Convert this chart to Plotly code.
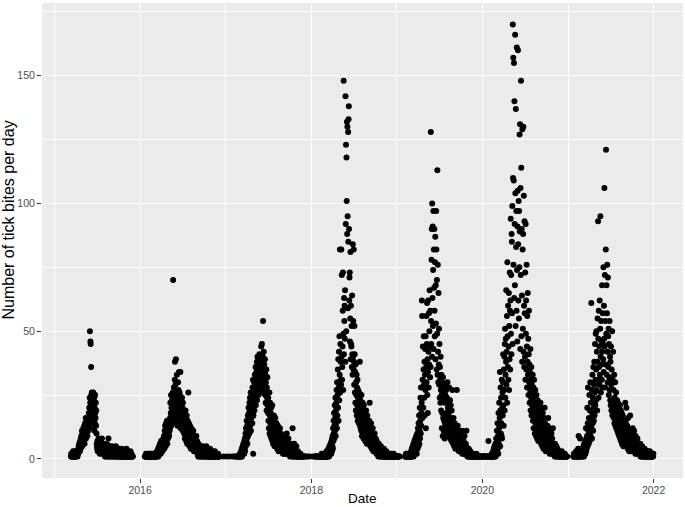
import datetime as dt
import plotly.graph_objects as go

# Daily counts of tick bites (0 = no record that day)
start_2015 = "2015-03-12"
bites_2015 = [
    1,2,1,1,2,1,1,2,1,3,1,2,2,1,1,2,1,3,2,1,
    2,2,3,1,2,3,2,2,1,3,3,2,4,5,3,6,4,5,3,7,6,4,8,5,9,6,7,11,5,8,
    10,6,9,12,7,10,8,13,6,11,14,9,12,16,8,13,10,15,11,14,9,12,16,13,11,14,18,12,20,16,24,
    50,22,46,45,18,36,25,13,26,20,16,23,12,19,26,15,21,17,24,11,20,14,25,18,16,22,13,19,10,6,
    5,4,7,3,5,6,4,8,3,5,4,6,2,5,7,3,4,6,5,3,4,8,2,5,3,6,4,3,5,2,4,
    3,2,4,1,3,5,2,3,1,4,2,6,3,1,2,4,3,2,8,1,3,2,4,1,3,2,5,3,1,2,4,
    2,3,1,5,2,3,2,1,4,3,2,1,3,2,4,1,2,3,1,5,2,1,3,2,1,4,2,3,1,2,
    2,1,3,1,2,4,1,2,1,3,2,1,2,1,4,1,2,0,1,3,1,2,1,0,2,1,3,1,1,2,0,
    1,2,1,4,1,0,2,1,1,3,0,1,2,1,0,1,2,0,1,1,3,0,1,0,2,1,0,1,0,1,
    1,
]

start_2016 = "2016-01-01"
bites_2016 = [
    0,0,0,0,0,0,0,0,0,0,0,0,0,0,0,0,0,0,0,0,1,0,1,1,0,2,1,0,1,1,0,
    1,2,1,0,1,1,0,1,2,1,0,1,1,2,0,1,1,0,1,2,1,1,0,1,2,1,1,0,2,
    1,1,2,1,0,1,2,1,1,2,2,1,3,2,1,3,2,4,1,3,2,5,3,2,4,6,3,5,2,4,7,
    3,5,4,6,3,7,5,4,8,6,5,9,4,7,11,6,13,8,5,10,14,7,12,9,15,6,11,13,8,14,
    10,12,15,9,13,11,12,16,22,14,18,25,13,20,17,23,15,21,19,26,70,24,18,28,21,26,16,31,38,14,29,
    22,39,19,25,17,33,20,24,13,22,30,18,27,15,34,22,26,16,25,19,34,12,23,20,17,21,14,24,18,20,
    11,22,16,19,13,15,10,18,12,8,16,11,19,9,14,7,13,17,10,6,12,15,8,11,26,9,14,7,12,5,10,
    13,6,9,11,4,8,12,5,7,10,6,9,4,8,11,5,7,3,9,6,4,8,5,7,3,6,4,9,5,3,7,
    4,2,5,3,1,6,2,4,3,1,5,2,3,4,1,2,5,3,1,2,4,3,2,1,5,2,3,1,4,2,
    1,3,2,4,1,2,3,1,2,5,1,3,2,1,2,4,1,2,3,1,2,1,3,2,1,4,1,2,1,3,1,
    2,0,1,2,1,3,1,0,2,1,1,2,0,1,3,1,0,1,2,1,0,1,1,2,0,1,0,1,2,0,
    1,0,1,0,0,1,0,0,0,0,0,0,0,0,0,0,0,0,0,0,0,1,0,0,0,0,0,0,0,0,0,
]

start_2017 = "2017-01-01"
bites_2017 = [
    0,0,0,0,1,0,0,0,0,0,0,0,0,0,0,0,0,1,0,0,0,0,0,0,0,0,0,0,0,0,0,
    1,0,0,0,0,0,0,1,0,0,0,0,0,1,0,0,1,0,0,1,0,0,1,0,1,0,0,1,
    1,2,1,0,2,1,3,1,2,4,1,3,2,5,2,4,6,3,5,2,7,4,8,3,6,10,5,12,7,9,15,
    8,13,6,11,17,9,14,20,12,18,10,22,15,24,13,19,26,11,21,16,23,18,25,14,28,20,31,2,17,24,
    22,30,19,27,33,24,29,36,21,31,26,34,38,23,30,40,27,35,32,25,37,29,33,41,28,36,31,39,26,34,30,
    44,33,38,45,30,36,28,40,54,35,31,42,26,37,34,29,39,25,33,22,30,27,35,19,28,24,32,21,26,18,
    24,15,21,12,19,26,10,17,22,14,9,18,13,20,8,16,11,21,7,15,12,6,14,10,17,8,13,5,11,9,16,
    7,12,6,10,14,5,9,4,11,7,13,6,8,3,10,5,9,7,4,12,6,8,3,10,5,7,4,9,6,3,8,
    5,2,7,4,9,3,6,2,5,8,3,6,4,2,7,5,3,10,4,2,6,3,5,2,8,4,3,6,2,5,
    3,1,4,2,6,3,2,5,1,4,2,3,12,1,5,2,4,3,1,6,2,3,1,4,2,1,3,2,5,1,2,
    1,2,1,0,3,1,2,0,1,1,2,0,1,0,1,2,1,0,0,1,0,1,0,0,1,0,1,0,0,1,
    0,0,1,0,0,0,0,1,0,0,0,0,0,1,0,0,0,0,0,0,0,0,0,0,1,0,0,0,0,0,0,
]

start_2018 = "2018-01-01"
bites_2018 = [
    0,0,0,0,0,0,0,1,0,0,0,0,0,0,0,1,0,0,1,0,0,1,0,0,1,0,1,0,0,1,0,
    1,0,1,0,1,1,0,1,0,1,1,0,1,2,0,1,1,0,1,1,2,0,1,1,2,1,0,1,
    1,2,1,1,2,1,3,1,2,1,2,3,1,2,4,2,3,1,5,2,3,4,2,6,3,5,2,7,4,3,8,
    5,9,4,12,7,15,10,18,8,13,21,11,16,24,9,19,14,22,27,12,30,17,25,35,20,39,15,28,42,23,
    48,33,82,26,45,38,31,29,82,40,72,31,36,44,58,73,27,49,148,41,63,54,60,47,66,38,142,92,123,50,118,
    101,132,88,130,95,59,128,85,133,138,90,62,71,73,46,55,81,39,60,45,44,52,36,64,41,33,84,40,54,35,
    82,38,29,52,41,26,34,22,37,19,30,25,33,17,28,21,31,15,24,27,18,22,14,26,20,16,38,13,23,18,12,
    20,11,25,15,9,19,13,22,10,17,14,8,21,12,16,9,18,11,7,15,13,10,19,8,14,6,12,17,9,11,7,
    13,8,10,6,15,9,22,7,12,5,11,8,14,6,9,4,10,7,5,12,6,8,3,9,5,7,4,10,6,3,
    6,4,8,3,5,2,7,4,3,6,2,5,3,1,4,6,2,3,5,1,4,2,3,1,5,2,3,4,1,2,3,
    1,2,3,1,2,1,4,2,1,3,1,2,1,0,2,1,3,1,2,1,1,0,2,1,1,2,0,1,1,2,
    1,0,1,2,1,0,1,1,0,2,1,0,1,1,0,1,0,1,2,0,1,0,1,0,1,1,0,1,0,1,0,
]

start_2019 = "2019-01-01"
bites_2019 = [
    1,0,1,0,1,1,0,1,0,0,1,0,1,0,0,0,0,0,0,0,0,0,0,0,0,0,0,0,0,0,0,
    0,0,0,0,1,1,0,1,2,1,0,1,1,2,1,1,0,1,2,1,1,2,1,0,1,2,1,1,
    2,1,3,1,2,4,1,3,2,5,2,3,6,1,4,2,7,3,5,2,8,4,6,3,9,5,2,7,10,4,6,
    12,8,5,14,9,17,6,11,20,8,15,24,10,28,13,18,22,62,56,16,31,44,28,20,35,48,29,24,38,17,
    33,43,27,48,12,36,56,30,45,61,25,39,18,34,62,42,28,57,37,50,66,44,32,58,36,128,54,45,78,90,40,
    100,63,91,52,74,97,43,82,67,90,58,48,77,87,39,68,53,97,82,35,70,49,113,33,76,42,30,65,37,51,
    29,45,24,36,31,22,40,27,19,33,25,12,30,18,28,9,32,16,26,11,23,15,29,8,22,14,25,17,10,13,27,
    18,12,24,15,30,10,20,14,22,9,17,28,13,19,11,23,8,16,21,12,15,7,19,10,14,27,9,13,6,11,16,
    8,12,5,10,14,7,11,4,9,13,6,8,12,27,5,10,7,13,4,9,6,11,3,8,5,10,4,7,3,6,
    5,9,3,7,4,11,2,6,8,3,5,2,7,4,6,3,9,2,5,4,3,6,2,5,11,3,2,4,1,3,2,
    3,1,2,4,1,2,3,1,2,1,3,1,2,0,1,2,1,0,1,2,1,0,1,1,0,2,1,0,1,1,
    0,1,1,0,1,0,2,1,0,1,0,1,1,0,0,1,0,1,0,1,0,0,1,0,1,0,0,1,0,1,0,
]

start_2020 = "2020-01-01"
bites_2020 = [
    1,0,0,1,0,1,0,0,1,0,1,0,0,1,0,0,1,0,1,0,0,1,0,0,1,0,7,0,1,0,1,
    0,1,1,0,1,0,1,1,0,2,1,0,1,2,1,3,1,2,4,1,2,5,1,3,2,6,1,4,8,
    2,5,11,3,7,14,4,9,2,18,6,12,22,8,16,34,5,19,28,10,24,14,9,31,8,20,26,17,30,41,21,
    13,35,27,40,19,45,51,24,33,47,38,66,29,42,56,22,77,48,36,60,31,44,65,27,52,39,73,58,35,62,
    94,49,72,41,88,85,57,99,45,170,110,157,76,109,155,63,140,92,68,166,104,52,137,83,97,58,161,74,46,91,105,
    160,84,62,101,55,97,75,127,89,131,43,106,72,148,114,48,90,64,38,129,82,51,88,130,42,103,60,36,93,57,
    40,73,31,92,49,62,35,76,44,28,56,38,65,33,47,25,41,58,30,37,22,34,27,43,19,31,24,36,17,29,21,
    26,18,33,15,23,28,12,20,31,16,24,10,19,27,14,22,9,17,25,13,20,8,15,23,11,18,7,14,21,10,16,
    12,19,8,14,22,10,17,6,13,20,9,15,5,11,18,7,13,4,10,16,6,12,20,8,14,5,10,3,9,12,
    7,11,4,9,13,5,8,16,3,10,6,12,4,8,2,9,5,11,3,7,4,10,2,6,8,3,5,12,2,4,6,
    3,5,2,4,1,6,3,2,4,1,3,5,2,1,3,2,4,1,2,3,1,2,1,3,1,2,0,1,2,1,
    2,1,0,1,3,1,0,2,1,1,0,1,2,0,1,1,0,2,1,0,1,0,1,1,0,1,0,1,0,0,0,
]

start_2021 = "2021-01-01"
bites_2021 = [
    0,0,0,0,0,0,0,0,0,0,0,0,0,0,0,0,0,0,0,0,0,0,1,0,1,2,1,0,1,1,2,
    1,2,1,3,1,2,1,1,3,2,1,2,4,1,9,1,3,2,1,2,8,1,3,2,1,4,2,3,
    1,3,2,2,1,4,2,5,3,1,6,2,4,3,7,2,5,12,3,8,4,6,9,20,5,14,28,8,11,6,16,
    10,25,7,19,13,30,9,22,16,61,12,27,8,18,33,14,24,11,36,20,15,29,38,17,26,45,21,31,49,23,
    35,50,27,42,19,38,55,31,93,47,24,58,36,44,29,62,33,51,95,40,26,54,37,46,31,68,42,28,57,45,39,
    75,34,60,47,106,44,72,28,54,37,82,121,49,68,33,57,76,42,30,71,48,36,51,25,45,32,54,27,40,23,
    38,21,44,29,19,35,23,50,17,31,22,42,20,27,16,21,33,14,24,18,30,13,22,17,26,12,20,15,23,11,19,
    14,22,10,17,13,20,9,15,12,21,8,16,11,19,7,14,10,18,6,13,9,17,8,12,5,15,10,7,13,6,11,
    9,22,12,7,14,6,20,10,5,13,8,11,4,16,9,6,12,7,3,10,8,5,17,9,4,11,7,3,8,6,
    10,5,8,12,4,7,9,3,6,11,5,8,4,7,2,9,5,3,7,4,6,2,5,8,3,4,6,2,5,3,4,
    3,5,2,4,6,1,3,2,4,1,3,2,5,1,3,2,1,4,2,1,3,1,2,4,1,2,3,1,2,1,
    2,1,3,1,2,1,1,2,3,1,2,1,1,2,1,3,1,2,1,1,2,1,1,2,1,1,2,1,2,1,2,
]

x_tick_vals = ["2016-01-01", "2018-01-01", "2020-01-01", "2022-01-01"]
x_tick_text = ["2016", "2018", "2020", "2022"]
x_minor_vals = ["2015-01-01", "2017-01-01", "2019-01-01", "2021-01-01"]
y_tick_vals = [0, 50, 100, 150]
y_minor_vals = [25, 75, 125, 175]

seasons = [
    (start_2015, bites_2015), (start_2016, bites_2016), (start_2017, bites_2017),
    (start_2018, bites_2018), (start_2019, bites_2019), (start_2020, bites_2020),
    (start_2021, bites_2021),
]

dates, counts = [], []
for start, vals in seasons:
    d0 = dt.date.fromisoformat(start)
    for i, v in enumerate(vals):
        if v > 0:
            dates.append(d0 + dt.timedelta(days=i))
            counts.append(v)

FONT = "Liberation Sans, Arial, sans-serif"

fig = go.Figure(go.Scatter(
    x=dates, y=counts, mode="markers",
    marker=dict(color="black", size=6, line=dict(width=0)),
))

fig.update_layout(
    width=685, height=507,
    margin=dict(l=42, r=2, t=3, b=29),
    paper_bgcolor="white", plot_bgcolor="#EBEBEB",
    showlegend=False,
    font=dict(family=FONT),
    xaxis=dict(
        type="date",
        range=["2014-11-08 07:00", "2022-05-06 14:00"],
        tickvals=x_tick_vals, ticktext=x_tick_text,
        ticks="outside", ticklen=4, tickwidth=1, tickcolor="#333333",
        tickfont=dict(size=10.5, color="#4D4D4D", family=FONT),
        ticklabelstandoff=-2,
        showgrid=True, gridcolor="white", gridwidth=1.2,
        minor=dict(tickvals=x_minor_vals, showgrid=True, gridcolor="white",
                   gridwidth=0.6, ticks=""),
        zeroline=False, showline=False,
    ),
    yaxis=dict(
        range=[-7.45, 178.45],
        tickvals=y_tick_vals,
        ticks="outside", ticklen=4, tickwidth=1, tickcolor="#333333",
        tickfont=dict(size=10.5, color="#4D4D4D", family=FONT),
        showgrid=True, gridcolor="white", gridwidth=1.2,
        minor=dict(tickvals=y_minor_vals, showgrid=True, gridcolor="white",
                   gridwidth=0.6, ticks=""),
        zeroline=False, showline=False,
    ),
    annotations=[
        dict(text="Date", xref="paper", yref="paper", x=0.5, y=-0.044,
             xanchor="center", yanchor="middle", showarrow=False,
             font=dict(size=13.5, color="black", family=FONT)),
        dict(text="Number of tick bites per day", xref="paper", yref="paper",
             x=-0.0523, y=0.543, xanchor="center", yanchor="middle",
             textangle=-90, showarrow=False,
             font=dict(size=16, color="black", family=FONT)),
    ],
)

fig.write_html(
    "out.html",
    config={"displayModeBar": False},
    post_script="document.body.style.margin='0';document.body.style.padding='0';"
                "document.documentElement.style.overflow='hidden';",
)
